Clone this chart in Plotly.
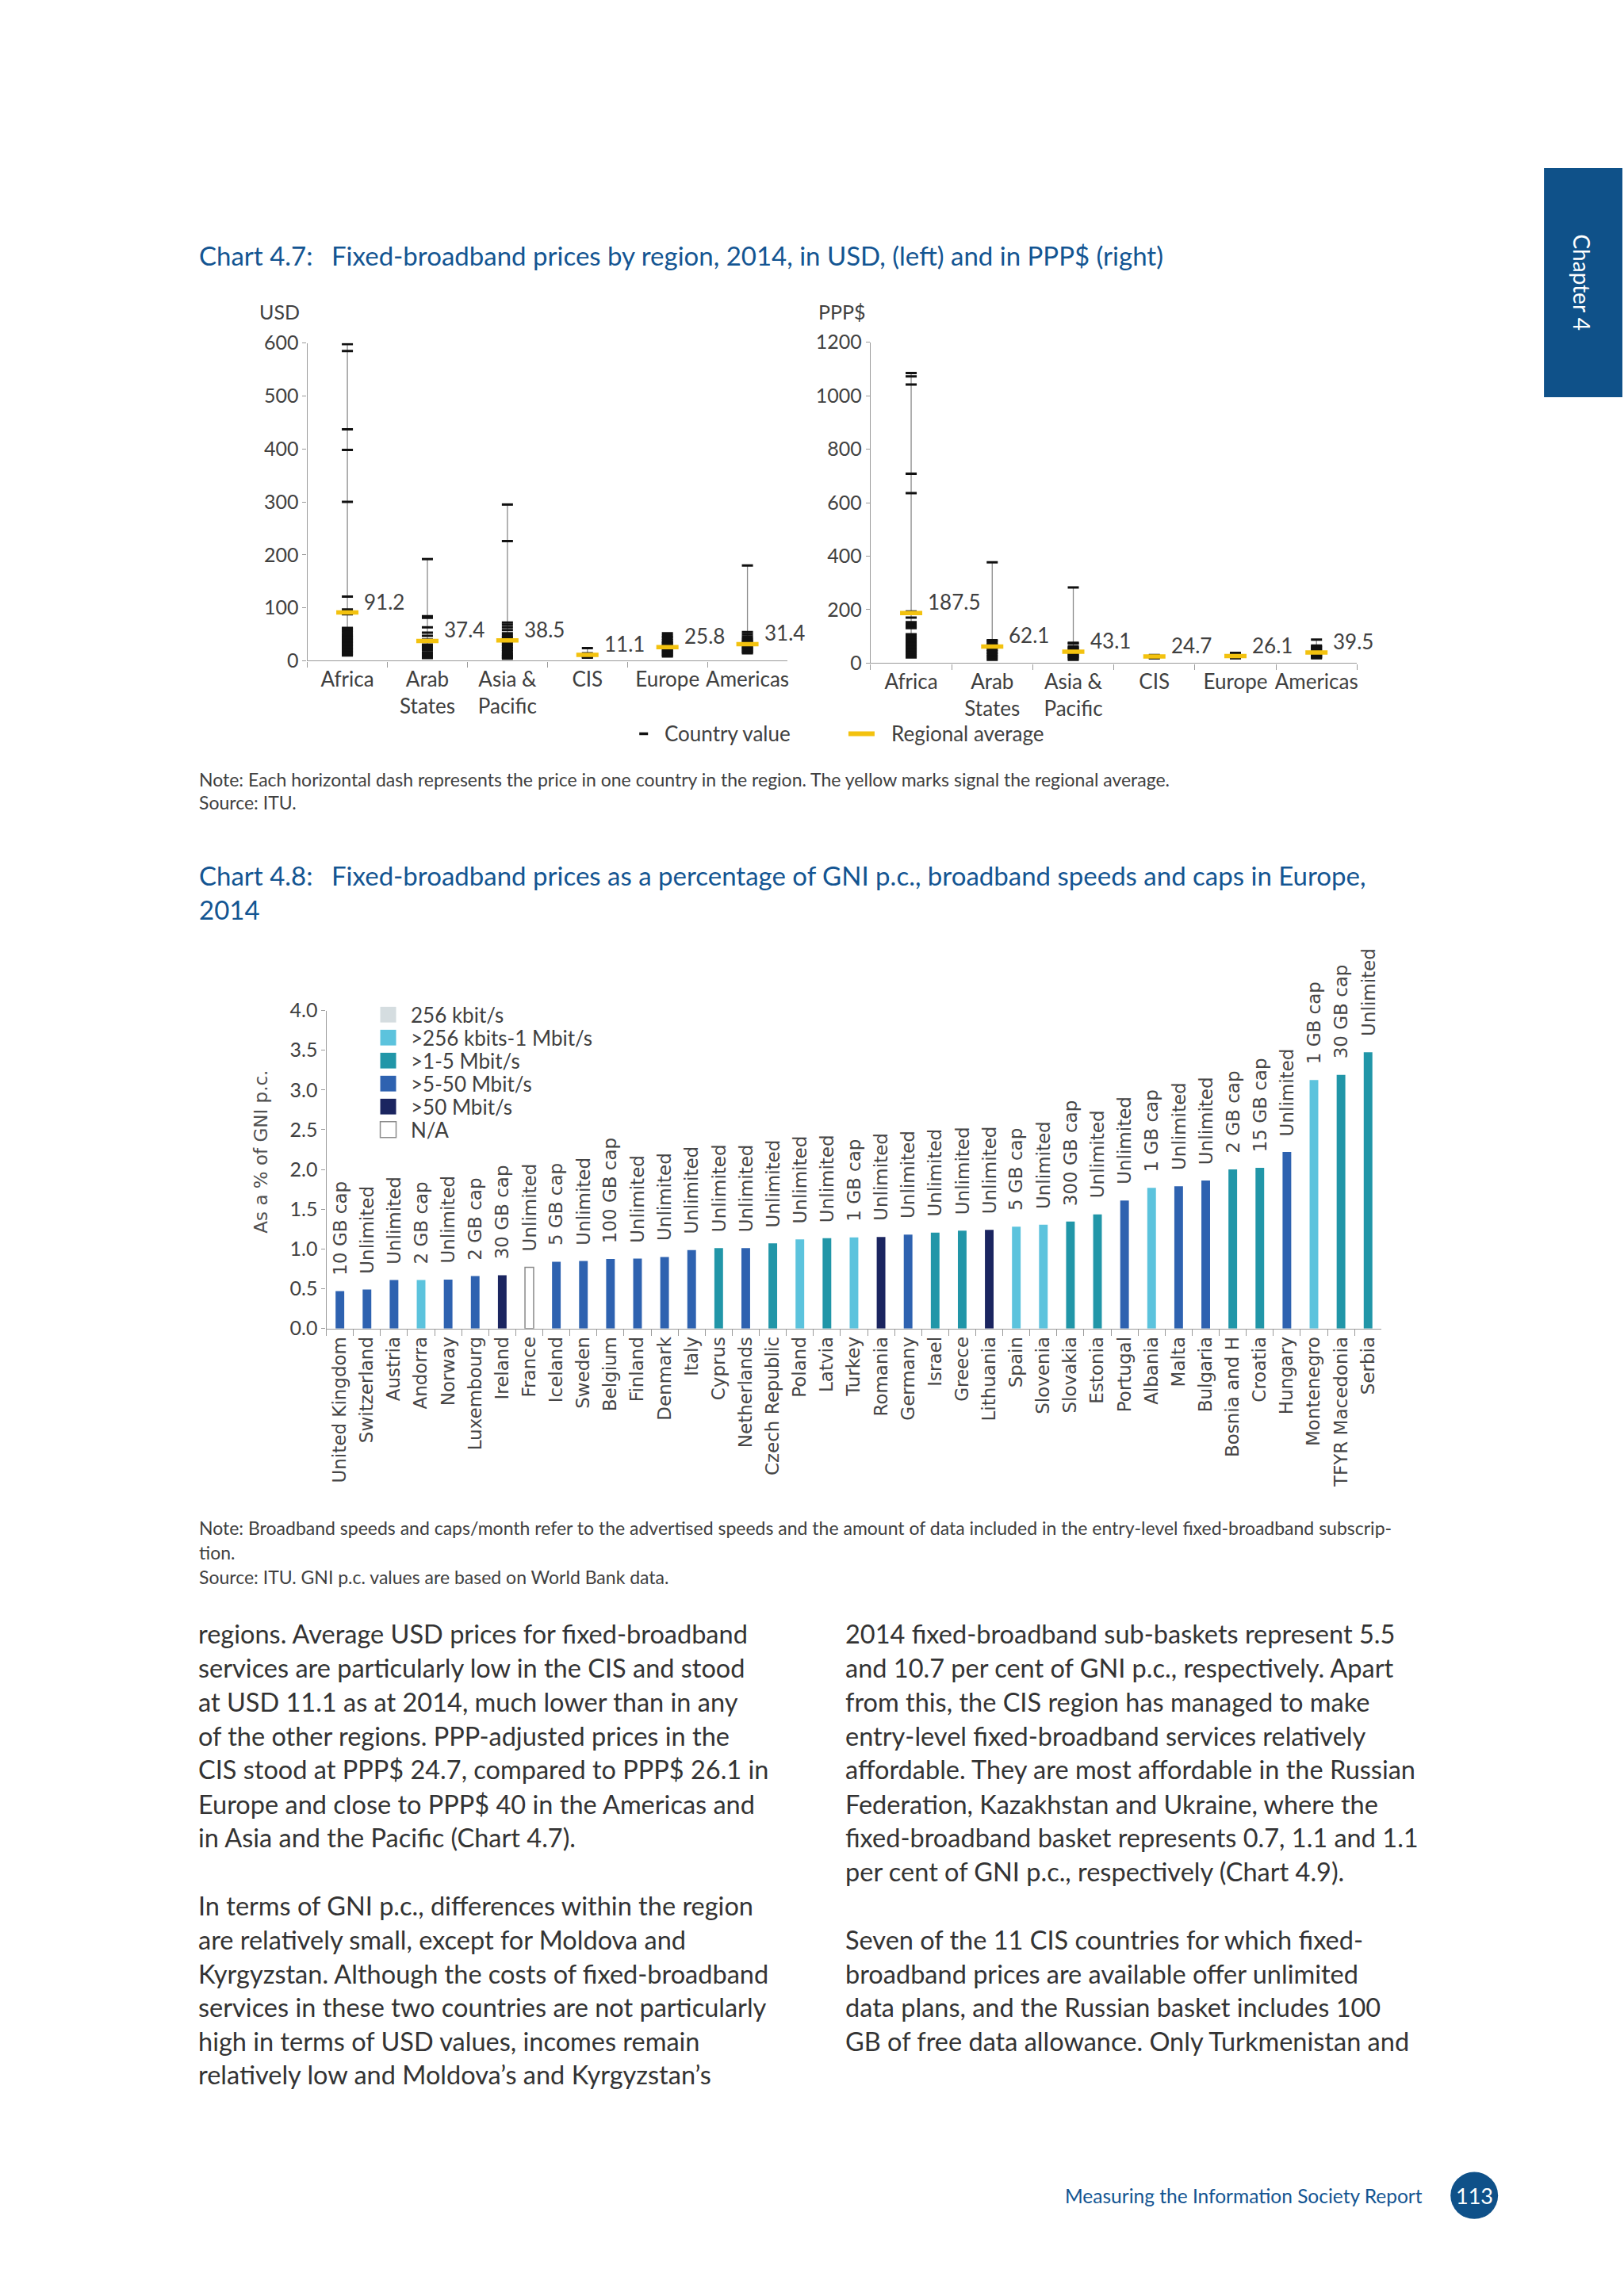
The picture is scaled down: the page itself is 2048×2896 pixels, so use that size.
import plotly.graph_objects as go

W, H = 2048, 2896

# ---------------- Chart 4.7 data ----------------
regions = ["Africa", "Arab<br>States", "Asia &<br>Pacific", "CIS", "Europe", "Americas"]

usd_africa = [598, 585, 437, 398, 300, 121, 97, 88, 62, 60, 57, 54, 51, 48, 46, 44, 42,
              40, 38, 36, 34, 32, 30, 28, 26, 24, 22, 20, 18, 16, 14, 12, 10]
usd_arab = [192, 84, 81, 63, 53, 47, 40, 35, 30, 27, 24, 20, 16, 12, 8, 5]
usd_asia = [295, 226, 72, 68, 63, 58, 52, 48, 45, 42, 39, 36, 33, 30, 27, 24, 21, 18,
            15, 12, 10, 8, 6, 4]
usd_cis = [24, 14, 12, 11, 10, 9, 8, 7, 6]
usd_europe = [52, 48, 45, 42, 39, 36, 34, 32, 30, 28, 26, 24, 22, 20, 18, 16, 14, 12, 10, 8]
usd_americas = [180, 54, 50, 46, 43, 40, 38, 36, 34, 32, 30, 28, 26, 24, 22, 20, 18, 16, 14]
usd_average = [91.2, 37.4, 38.5, 11.1, 25.8, 31.4]

ppp_africa = [1085, 1072, 1042, 708, 636, 193, 170, 153, 145, 140, 135, 131, 108, 103, 98,
              93, 88, 84, 80, 76, 72, 68, 64, 60, 56, 52, 48, 44, 40, 35, 30, 25, 21]
ppp_arab = [377, 86, 82, 75, 70, 66, 62, 56, 50, 44, 38, 32, 26, 20, 12]
ppp_asia = [283, 76, 73, 62, 58, 54, 50, 46, 42, 38, 34, 30, 26, 22, 18, 12]
ppp_cis = [30, 28, 26, 24, 22, 20, 18]
ppp_europe = [38, 36, 34, 32, 30, 28, 26, 24, 22, 20, 18]
ppp_americas = [88, 66, 62, 58, 54, 50, 46, 42, 39, 36, 33, 30, 27, 24, 21, 18]
ppp_average = [187.5, 62.1, 43.1, 24.7, 26.1, 39.5]

usd_ticks = [0, 100, 200, 300, 400, 500, 600]
ppp_ticks = [0, 200, 400, 600, 800, 1000, 1200]

# ---------------- Chart 4.8 data ----------------
countries = ["United Kingdom", "Switzerland", "Austria", "Andorra", "Norway", "Luxembourg",
             "Ireland", "France", "Iceland", "Sweden", "Belgium", "Finland", "Denmark",
             "Italy", "Cyprus", "Netherlands", "Czech Republic", "Poland", "Latvia",
             "Turkey", "Romania", "Germany", "Israel", "Greece", "Lithuania", "Spain",
             "Slovenia", "Slovakia", "Estonia", "Portugal", "Albania", "Malta", "Bulgaria",
             "Bosnia and H", "Croatia", "Hungary", "Montenegro", "TFYR Macedonia", "Serbia"]
gni_pct = [0.47, 0.49, 0.61, 0.61, 0.615, 0.66, 0.67, 0.77, 0.84, 0.85, 0.875, 0.88, 0.90,
           0.985, 1.01, 1.01, 1.07, 1.12, 1.135, 1.145, 1.15, 1.18, 1.205, 1.23, 1.24, 1.28,
           1.305, 1.345, 1.435, 1.61, 1.77, 1.79, 1.86, 2.0, 2.02, 2.22, 3.125, 3.19, 3.475]
speed_tier = [">5-50 Mbit/s", ">5-50 Mbit/s", ">5-50 Mbit/s", ">256 kbits-1 Mbit/s",
              ">5-50 Mbit/s", ">5-50 Mbit/s", ">50 Mbit/s", "N/A", ">5-50 Mbit/s",
              ">5-50 Mbit/s", ">5-50 Mbit/s", ">5-50 Mbit/s", ">5-50 Mbit/s", ">5-50 Mbit/s",
              ">1-5 Mbit/s", ">5-50 Mbit/s", ">1-5 Mbit/s", ">256 kbits-1 Mbit/s",
              ">1-5 Mbit/s", ">256 kbits-1 Mbit/s", ">50 Mbit/s", ">5-50 Mbit/s",
              ">1-5 Mbit/s", ">1-5 Mbit/s", ">50 Mbit/s", ">256 kbits-1 Mbit/s",
              ">256 kbits-1 Mbit/s", ">1-5 Mbit/s", ">1-5 Mbit/s", ">5-50 Mbit/s",
              ">256 kbits-1 Mbit/s", ">5-50 Mbit/s", ">5-50 Mbit/s", ">1-5 Mbit/s",
              ">1-5 Mbit/s", ">5-50 Mbit/s", ">256 kbits-1 Mbit/s", ">1-5 Mbit/s",
              ">1-5 Mbit/s"]
data_caps = ["10 GB cap", "Unlimited", "Unlimited", "2 GB cap", "Unlimited", "2 GB cap",
             "30 GB cap", "Unlimited", "5 GB cap", "Unlimited", "100 GB cap", "Unlimited",
             "Unlimited", "Unlimited", "Unlimited", "Unlimited", "Unlimited", "Unlimited",
             "Unlimited", "1 GB cap", "Unlimited", "Unlimited", "Unlimited", "Unlimited",
             "Unlimited", "5 GB cap", "Unlimited", "300 GB cap", "Unlimited", "Unlimited",
             "1 GB cap", "Unlimited", "Unlimited", "2 GB cap", "15 GB cap", "Unlimited",
             "1 GB cap", "30 GB cap", "Unlimited"]
speed_legend = ["256 kbit/s", ">256 kbits-1 Mbit/s", ">1-5 Mbit/s", ">5-50 Mbit/s",
                ">50 Mbit/s", "N/A"]
gni_ticks = [0.0, 0.5, 1.0, 1.5, 2.0, 2.5, 3.0, 3.5, 4.0]

# ---------------- styles ----------------
SPEED_COLORS = {"256 kbit/s": "#d5dde0", ">256 kbits-1 Mbit/s": "#5cc3dd",
                ">1-5 Mbit/s": "#2196a8", ">5-50 Mbit/s": "#2e62b0",
                ">50 Mbit/s": "#1b2560", "N/A": "#ffffff"}
BLUE = "#135592"
YELLOW = "#f3c20f"
TXT = "#3d3d3d"
AXC = "#9a9a9a"
FONT = "Lato"
GFONT = "DejaVu Sans"


def X(p):
    return p / W


def Y(p):
    return 1 - p / H


fig = go.Figure()
annotations = []
shapes = []


def add_panel(xa, ya, values, averages):
    lx, ly, mx, my = [], [], [], []
    for r, vals in zip(regions, values):
        lx += [r, r, None]
        ly += [min(vals), max(vals), None]
        mx += [r] * len(vals)
        my += vals
    fig.add_trace(go.Scatter(x=lx, y=ly, mode="lines", xaxis=xa, yaxis=ya,
                             line=dict(color="#8a8a8a", width=1.3),
                             showlegend=False, hoverinfo="skip"))
    fig.add_trace(go.Scatter(x=mx, y=my, mode="markers", xaxis=xa, yaxis=ya,
                             name="Country value", showlegend=False,
                             marker=dict(symbol="line-ew", size=10,
                                         line=dict(color="#111111", width=3))))
    fig.add_trace(go.Scatter(x=regions, y=averages, mode="markers", xaxis=xa, yaxis=ya,
                             name="Regional average", showlegend=False,
                             marker=dict(symbol="line-ew", size=20,
                                         line=dict(color=YELLOW, width=5.5))))
    for r, a in zip(regions, averages):
        annotations.append(dict(x=r, y=a, xref=xa, yref=ya, text=f"{a:.1f}",
                                showarrow=False, xanchor="left", yanchor="middle",
                                xshift=19, yshift=14,
                                font=dict(family=FONT, size=26, color="#404040")))


add_panel("x", "y", [usd_africa, usd_arab, usd_asia, usd_cis, usd_europe, usd_americas],
          usd_average)
add_panel("x2", "y2", [ppp_africa, ppp_arab, ppp_asia, ppp_cis, ppp_europe, ppp_americas],
          ppp_average)

# ---- Chart 4.8 bars ----
bar_colors = [SPEED_COLORS[s] for s in speed_tier]
line_colors = ["#8a8a8a" if s == "N/A" else SPEED_COLORS[s] for s in speed_tier]
line_widths = [1.5 if s == "N/A" else 0 for s in speed_tier]
fig.add_trace(go.Bar(x=countries, y=gni_pct, xaxis="x3", yaxis="y3", showlegend=False,
                     marker=dict(color=bar_colors,
                                 line=dict(color=line_colors, width=line_widths)),
                     hovertemplate="%{x}: %{y:.2f}%<extra></extra>"))
for c, v, cap in zip(countries, gni_pct, data_caps):
    annotations.append(dict(x=c, y=v, xref="x3", yref="y3", text=cap, showarrow=False,
                            textangle=-90, xanchor="center", yanchor="bottom", yshift=18,
                            font=dict(family=GFONT, size=23, color="#454545")))

# ---- legend of chart 4.8 (manual swatches) ----
leg_top = 1267
for i, lab in enumerate(speed_legend):
    yc = leg_top + 10 + i * 29.3
    shapes.append(dict(type="rect", xref="paper", yref="paper",
                       x0=X(480), x1=X(500), y0=Y(yc - 10), y1=Y(yc + 10),
                       fillcolor=SPEED_COLORS[lab],
                       line=dict(color="#8a8a8a" if lab == "N/A" else SPEED_COLORS[lab],
                                 width=1.5 if lab == "N/A" else 0)))
    annotations.append(dict(x=X(517), y=Y(yc), xref="paper", yref="paper", text=lab,
                            showarrow=False, xanchor="left", yanchor="middle",
                            font=dict(family=FONT, size=26, color="#404040")))

# ---- legend of chart 4.7 ----
shapes.append(dict(type="line", xref="paper", yref="paper", x0=X(807), x1=X(818),
                   y0=Y(919), y1=Y(919), line=dict(color="#111111", width=3.5)))
annotations.append(dict(x=X(837), y=Y(919), xref="paper", yref="paper", text="Country value",
                        showarrow=False, xanchor="left", yanchor="middle",
                        font=dict(family=FONT, size=26, color="#404040")))
shapes.append(dict(type="line", xref="paper", yref="paper", x0=X(1071), x1=X(1104),
                   y0=Y(919), y1=Y(919), line=dict(color=YELLOW, width=6)))
annotations.append(dict(x=X(1123), y=Y(919), xref="paper", yref="paper",
                        text="Regional average", showarrow=False, xanchor="left",
                        yanchor="middle", font=dict(family=FONT, size=26, color="#404040")))


def text(xp, yp, s, size, color=TXT, family=FONT, anchor="left", angle=0):
    annotations.append(dict(x=X(xp), y=Y(yp), xref="paper", yref="paper", text=s,
                            showarrow=False, xanchor=anchor, yanchor="middle",
                            textangle=angle, font=dict(family=family, size=size, color=color)))


# titles
TS = 33
text(249, 309, "Chart 4.7:", TS, BLUE)
text(416, 309, "Fixed-broadband prices by region, 2014, in USD, (left) and in PPP$ (right)",
     TS, BLUE)
text(353, 381, "USD", 25, "#404040", anchor="center")
text(1063, 381, "PPP$", 25, "#404040", anchor="center")
text(249, 977, "Note: Each horizontal dash represents the price in one country in the region. "
     "The yellow marks signal the regional average.", 23, "#404040")
text(249, 1006, "Source: ITU.", 23, "#404040")

text(249, 1099, "Chart 4.8:", TS, BLUE)
text(416, 1099, "Fixed-broadband prices as a percentage of GNI p.c., broadband speeds and "
     "caps in Europe,", TS, BLUE)
text(249, 1143, "2014", TS, BLUE)
text(329, 1452, "As a % of GNI p.c.", 23, "#505050", family=GFONT, anchor="center", angle=-90)

text(249, 1931, "Note: Broadband speeds and caps/month refer to the advertised speeds and the "
     "amount of data included in the entry-level fixed-broadband subscrip-", 23, "#404040")
text(249, 1962, "tion.", 23, "#404040")
text(249, 1994, "Source: ITU. GNI p.c. values are based on World Bank data.", 23, "#404040")

left_col = [
    (2066, "regions. Average USD prices for fixed-broadband"),
    (2109, "services are particularly low in the CIS and stood"),
    (2153, "at USD 11.1 as at 2014, much lower than in any"),
    (2196, "of the other regions. PPP-adjusted prices in the"),
    (2239, "CIS stood at PPP$ 24.7, compared to PPP$ 26.1 in"),
    (2283, "Europe and close to PPP$ 40 in the Americas and"),
    (2326, "in Asia and the Pacific (Chart 4.7)."),
    (2412, "In terms of GNI p.c., differences within the region"),
    (2456, "are relatively small, except for Moldova and"),
    (2499, "Kyrgyzstan. Although the costs of fixed-broadband"),
    (2542, "services in these two countries are not particularly"),
    (2585, "high in terms of USD values, incomes remain"),
    (2628, "relatively low and Moldova’s and Kyrgyzstan’s"),
]
right_col = [
    (2066, "2014 fixed-broadband sub-baskets represent 5.5"),
    (2109, "and 10.7 per cent of GNI p.c., respectively. Apart"),
    (2153, "from this, the CIS region has managed to make"),
    (2196, "entry-level fixed-broadband services relatively"),
    (2239, "affordable. They are most affordable in the Russian"),
    (2283, "Federation, Kazakhstan and Ukraine, where the"),
    (2326, "fixed-broadband basket represents 0.7, 1.1 and 1.1"),
    (2369, "per cent of GNI p.c., respectively (Chart 4.9)."),
    (2456, "Seven of the 11 CIS countries for which fixed-"),
    (2499, "broadband prices are available offer unlimited"),
    (2542, "data plans, and the Russian basket includes 100"),
    (2585, "GB of free data allowance. Only Turkmenistan and"),
]
for yp, s in left_col:
    text(248, yp, s, 32.5, "#333333")
for yp, s in right_col:
    text(1065, yp, s, 32.5, "#333333")

# chapter tab
shapes.append(dict(type="rect", xref="paper", yref="paper", x0=X(1949), x1=X(2048),
                   y0=Y(490), y1=Y(198), fillcolor="#0f5189", line=dict(width=0)))
text(1997, 344, "Chapter 4", 28, "#ffffff", anchor="center", angle=90)

# footer
text(1342, 2782, "Measuring the Information Society Report", 24.5, BLUE)
shapes.append(dict(type="circle", xref="paper", yref="paper", x0=X(1831), x1=X(1891),
                   y0=Y(2812), y1=Y(2752), fillcolor="#0f5189", line=dict(width=0)))
text(1861, 2782, "113", 27, "#ffffff", anchor="center")

axis_common = dict(showline=True, linecolor=AXC, linewidth=1.3, ticks="outside",
                   tickcolor=AXC, showgrid=False, zeroline=False, fixedrange=True)

fig.update_layout(
    width=W, height=H, autosize=False,
    margin=dict(l=0, r=0, t=0, b=0),
    paper_bgcolor="white", plot_bgcolor="white",
    showlegend=False, bargap=0.68,
    xaxis=dict(domain=[X(388), X(994)], anchor="y", type="category",
               categoryorder="array", categoryarray=regions, range=[-0.5, 5.5],
               tickson="boundaries", ticklen=7, tickangle=0,
               tickfont=dict(family=FONT, size=26, color="#404040"), **axis_common),
    yaxis=dict(domain=[Y(826), Y(421)], anchor="x", range=[0, 600], tickvals=usd_ticks,
               ticklen=5, tickfont=dict(family=FONT, size=25, color="#404040"),
               **axis_common),
    xaxis2=dict(domain=[X(1099), X(1713)], anchor="y2", type="category",
                categoryorder="array", categoryarray=regions, range=[-0.5, 5.5],
                tickson="boundaries", ticklen=7, tickangle=0,
                tickfont=dict(family=FONT, size=26, color="#404040"), **axis_common),
    yaxis2=dict(domain=[Y(829), Y(420)], anchor="x2", range=[0, 1200], tickvals=ppp_ticks,
                ticklen=5, tickfont=dict(family=FONT, size=25, color="#404040"),
                **axis_common),
    xaxis3=dict(domain=[X(412), X(1744)], anchor="y3", type="category",
                categoryorder="array", categoryarray=countries,
                tickson="boundaries", ticklen=8, tickangle=-90,
                tickfont=dict(family=GFONT, size=23, color="#454545"), **axis_common),
    yaxis3=dict(domain=[Y(1677), Y(1271.7)], anchor="x3", range=[0, 4.0],
                tickvals=gni_ticks, tickformat=".1f", ticklen=5,
                tickfont=dict(family=FONT, size=25, color="#404040"), **axis_common),
    annotations=annotations,
    shapes=shapes,
)

fig.write_html("out.html",
               config={"displayModeBar": False},
               post_script="document.body.style.margin='0';"
                           "document.body.style.overflow='hidden';")
